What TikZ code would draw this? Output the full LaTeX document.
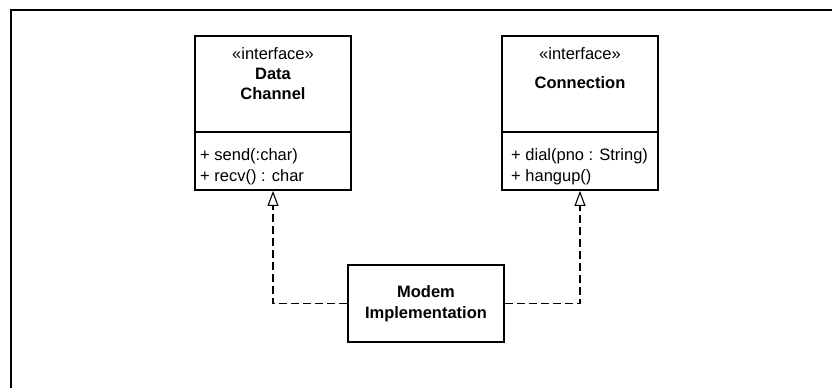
\documentclass[tikz,border=0pt]{standalone}
\usepackage{fontspec}
\setmainfont{Liberation Sans}
\usetikzlibrary{arrows.meta}
\begin{document}
\begin{tikzpicture}[x=1pt,y=-1pt,
  every node/.style={font=\fontsize{16.5}{20.5}\selectfont, inner sep=0pt},
  classbox/.style={draw, line width=1.8pt, minimum width=156pt, minimum height=154pt},
  implbox/.style={draw, line width=1.8pt, minimum width=156pt, minimum height=77pt, align=center, font=\fontsize{16.5}{20.5}\selectfont\bfseries},
  lbl/.style={anchor=base},
  member/.style={anchor=base west},
  realize/.style={line width=1.3pt, dash pattern=on 8pt off 4pt, -{Triangle[open, width=11pt, length=15pt, line width=1.1pt]}}
]
\useasboundingbox (0,0) rectangle (832,388);
\draw[line width=1.8pt] (11,388) -- (11,10) -- (832,10);

% classes
\node[classbox] (dc) at (273,113) {};
\node[classbox] (conn) at (580,113) {};
\draw[line width=1.3pt] (dc.west |- 0,132) -- (dc.east |- 0,132);
\draw[line width=1.3pt] (conn.west |- 0,132) -- (conn.east |- 0,132);

\node[lbl] (dcst) at (273,59) {«interface»};
\node[lbl, font=\fontsize{16.5}{20.5}\selectfont\bfseries] (dcn1) at (273,79) {Data};
\node[lbl, font=\fontsize{16.5}{20.5}\selectfont\bfseries] (dcn2) at (273,99) {Channel};
\node[member] (dcm1) at (200,160) {+ send(:char)};
\node[member] (dcm2) at (200,181) {+ recv() : char};

\node[lbl] (cst) at (580,59) {«interface»};
\node[lbl, font=\fontsize{16.5}{20.5}\selectfont\bfseries] (cn) at (580,88) {Connection};
\node[member] (cm1) at (511,160) {+ dial(pno : String)};
\node[member] (cm2) at (511,181) {+ hangup()};

% implementation
\node[implbox] (modem) at (426,303.5) {Modem\\Implementation};

\draw[realize] (modem.west) -| (dc.south);
\draw[realize] (modem.east) -| (conn.south);
\end{tikzpicture}
\end{document}
